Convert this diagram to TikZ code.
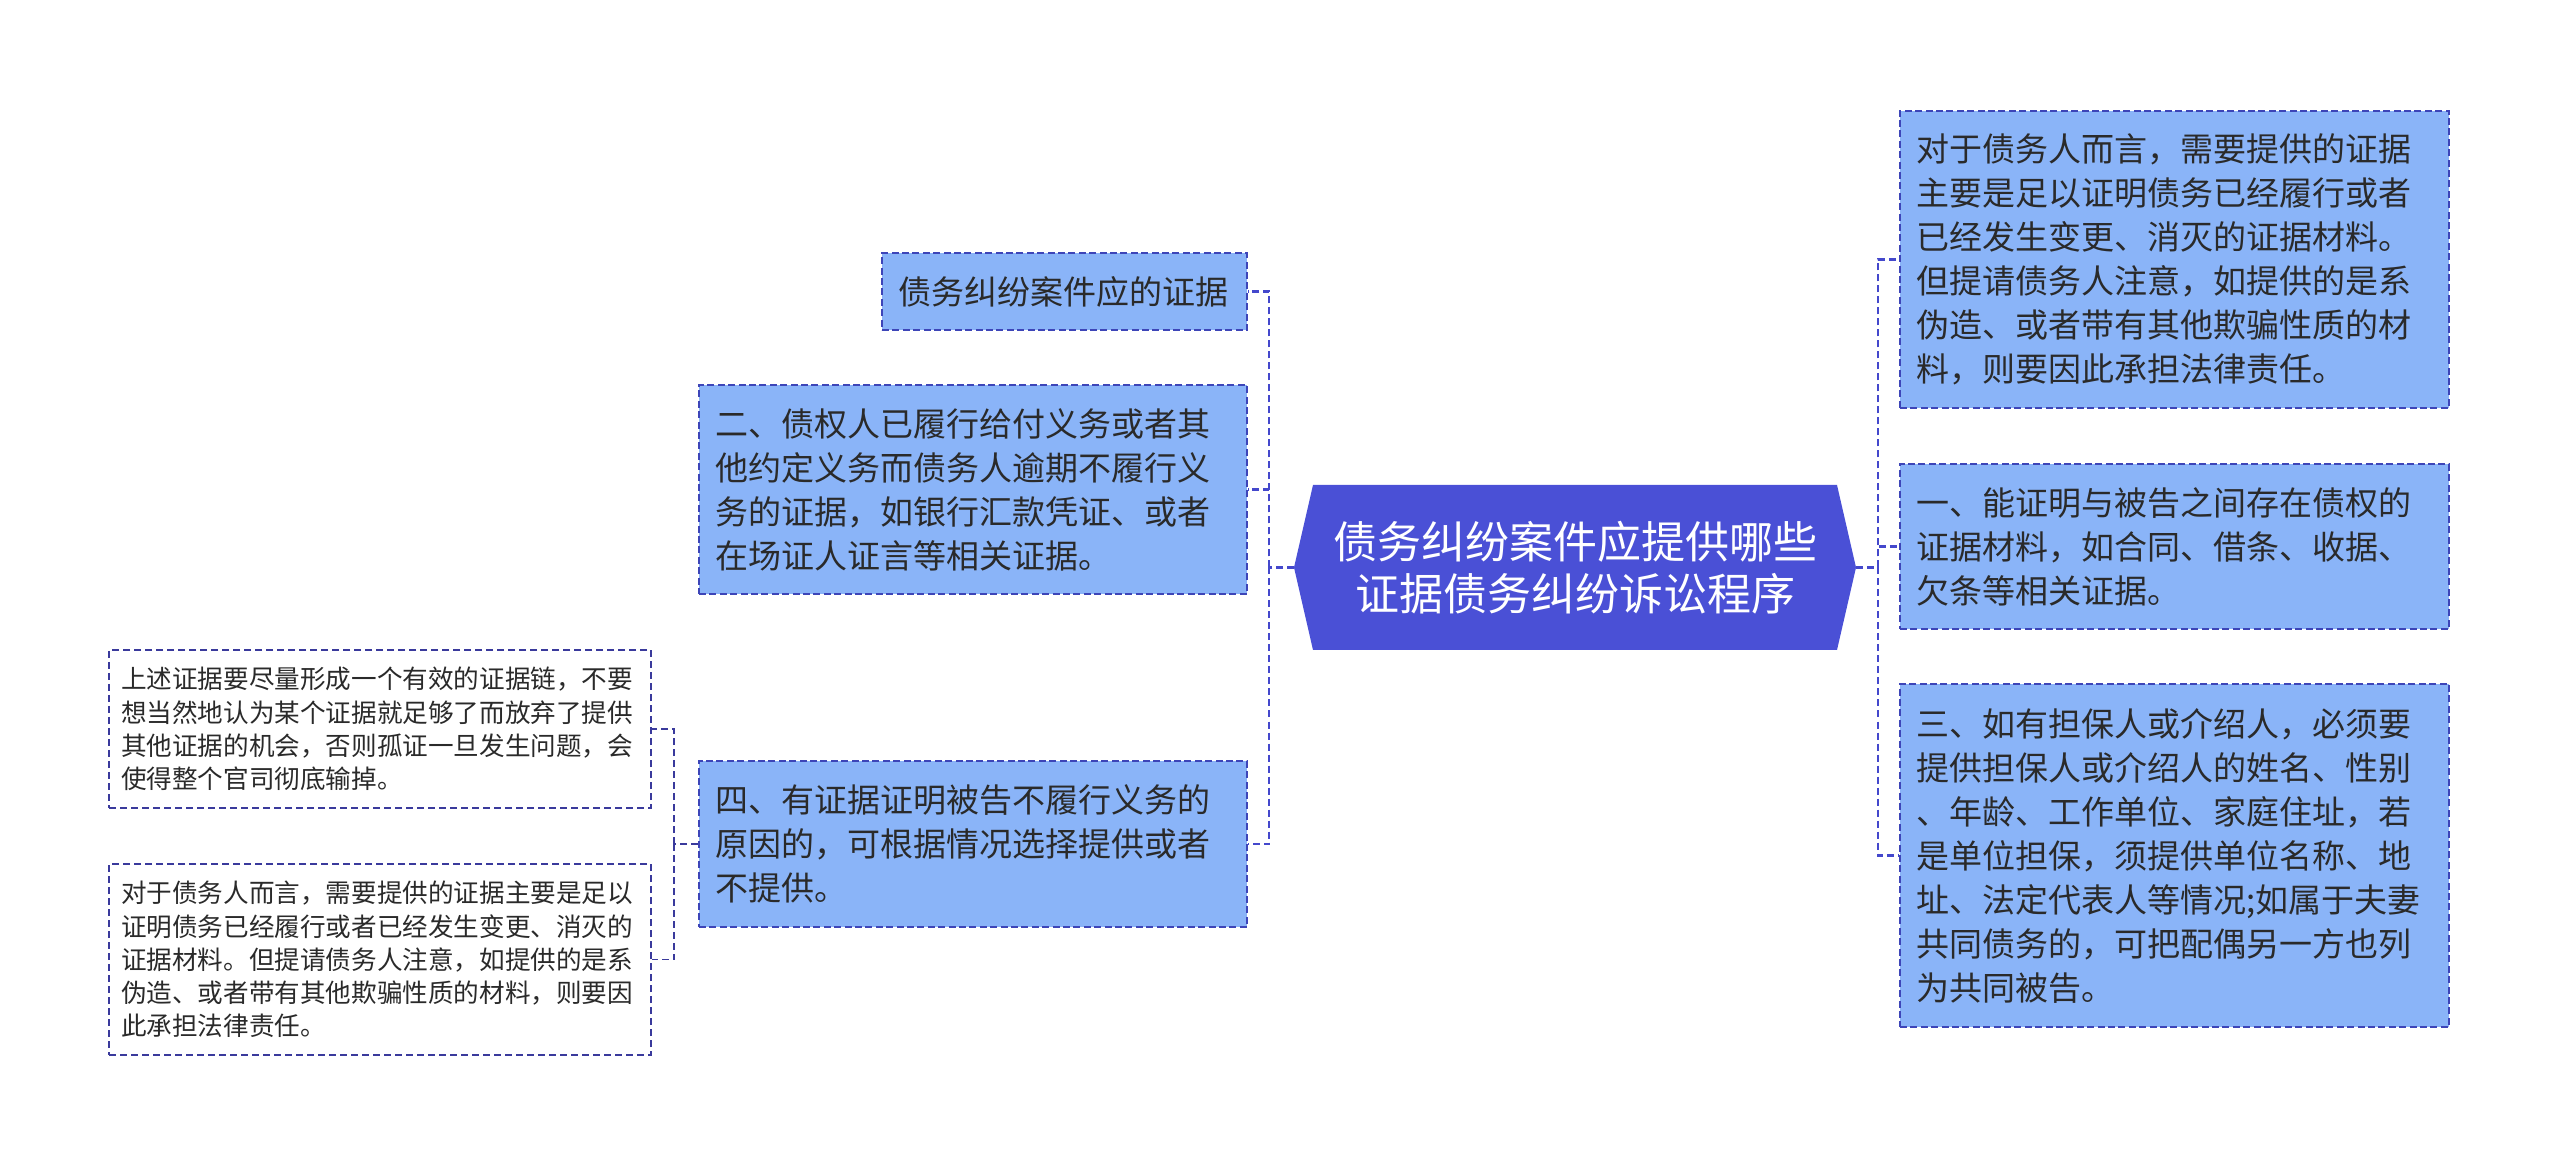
\documentclass[tikz,border=0pt]{standalone}
\usepackage{fontspec}
\newfontfamily\cjk{Noto Sans CJK SC}

\definecolor{hubblue}{HTML}{4A50D6}
\definecolor{boxblue}{HTML}{8AB4F8}
\definecolor{edgeblue}{HTML}{3D45B8}
\definecolor{linkblue}{HTML}{4448CC}
\definecolor{noteedge}{HTML}{3A3A9C}
\definecolor{inkgray}{HTML}{2A2A2A}

\tikzset{
  card/.style={draw=edgeblue, line width=0.8pt, dash pattern=on 3.5pt off 1.7pt,
    fill=boxblue, text=inkgray, align=left, inner xsep=8pt, inner ysep=0pt,
    font=\cjk\fontsize{16.5}{22}\selectfont},
  note/.style={draw=noteedge, line width=0.7pt, dash pattern=on 3.5pt off 2pt,
    fill=white, text=inkgray, align=left, inner xsep=6pt, inner ysep=0pt,
    font=\cjk\fontsize{12.8}{16.6}\selectfont},
  hubtext/.style={text=white, align=center, minimum width=280.5pt,
    minimum height=82.5pt, inner sep=0pt, font=\cjk\fontsize{22}{26}\selectfont},
  link/.style={draw=linkblue, line width=1.3pt, dash pattern=on 3.5pt off 2pt},
  notelink/.style={draw=noteedge, line width=0.85pt, dash pattern=on 3.5pt off 2pt}
}

\begin{document}
\begin{tikzpicture}[x=0.5pt,y=-0.5pt]
\useasboundingbox (0,0) rectangle (2560,1165);

\coordinate (HW) at (1294,567.5);
\coordinate (HNW) at (1313,485);
\coordinate (HNE) at (1837,485);
\coordinate (HE) at (1856,567.5);
\coordinate (HSE) at (1837,650);
\coordinate (HSW) at (1313,650);

\fill[hubblue] (HW) -- (HNW) -- (HNE) -- (HE) -- (HSE) -- (HSW) -- cycle;
\node[hubtext] (hub) at (1575,567.5) {债务纠纷案件应提供哪些\\证据债务纠纷诉讼程序};

\node[card, text width=166.5pt, minimum height=38.5pt] (L1) at (1064.5,291.5) {债务纠纷案件应的证据};
\node[card, text width=258pt, minimum height=104.5pt] (L2) at (973,489.5) {二、债权人已履行给付义务或者其\\他约定义务而债务人逾期不履行义\\务的证据，如银行汇款凭证、或者\\在场证人证言等相关证据。};
\node[card, text width=258pt, minimum height=83pt] (L4) at (973,844) {四、有证据证明被告不履行义务的\\原因的，可根据情况选择提供或者\\不提供。};

\node[note, text width=259pt, minimum height=79pt] (LL1) at (380,729) {上述证据要尽量形成一个有效的证据链，不要\\想当然地认为某个证据就足够了而放弃了提供\\其他证据的机会，否则孤证一旦发生问题，会\\使得整个官司彻底输掉。};
\node[note, text width=259pt, minimum height=95.5pt] (LL2) at (380,959.5) {对于债务人而言，需要提供的证据主要是足以\\证明债务已经履行或者已经发生变更、消灭的\\证据材料。但提请债务人注意，如提供的是系\\伪造、或者带有其他欺骗性质的材料，则要因\\此承担法律责任。};

\node[card, text width=258.5pt, minimum height=148.5pt] (R1) at (2174.5,259.5) {对于债务人而言，需要提供的证据\\主要是足以证明债务已经履行或者\\已经发生变更、消灭的证据材料。\\但提请债务人注意，如提供的是系\\伪造、或者带有其他欺骗性质的材\\料，则要因此承担法律责任。};
\node[card, text width=258.5pt, minimum height=82.5pt] (R2) at (2174.5,546.5) {一、能证明与被告之间存在债权的\\证据材料，如合同、借条、收据、\\欠条等相关证据。};
\node[card, text width=258.5pt, minimum height=171.5pt] (R3) at (2174.5,855.5) {三、如有担保人或介绍人，必须要\\提供担保人或介绍人的姓名、性别\\、年龄、工作单位、家庭住址，若\\是单位担保，须提供单位名称、地\\址、法定代表人等情况;如属于夫妻\\共同债务的，可把配偶另一方也列\\为共同被告。};

\draw[link] (hub.west) -- ++(-25,0) coordinate (lj);
\draw[link] (lj) |- (L1.east);
\draw[link] (lj) |- (L2.east);
\draw[link] (lj) |- (L4.east);

\draw[link] (hub.east) -- ++(22,0) coordinate (rj);
\draw[link] (rj) |- (R1.west);
\draw[link] (rj) |- (R2.west);
\draw[link] (rj) |- (R3.west);

\draw[notelink] (L4.west) -- ++(-24,0) coordinate (sj);
\draw[notelink] (sj) |- (LL1.east);
\draw[notelink] (sj) |- (LL2.east);

\end{tikzpicture}
\end{document}
